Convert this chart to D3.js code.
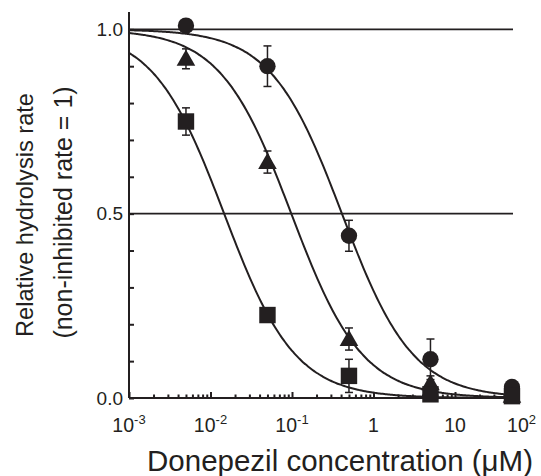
<!DOCTYPE html>
<html>
<head>
<meta charset="utf-8">
<script src="https://cdn.jsdelivr.net/npm/d3@7"></script>
<style>
  body { margin: 0; background: #fff; }
  svg { display: block; font-family: "Liberation Sans", Arial, sans-serif; }
</style>
</head>
<body>
<script>
// concentrations (uM) and mean +/- error for each inhibitor series
var conc = [0.005, 0.05, 0.5, 5, 50];
var circleMean = [1.01, 0.90, 0.44, 0.105, 0.03];
var circleErr  = [0.01, 0.055, 0.042, 0.055, 0.01];
var triMean    = [0.92, 0.64, 0.16, 0.04, 0.006];
var triErr     = [0.027, 0.03, 0.03, 0.02, 0.005];
var sqMean     = [0.75, 0.225, 0.06, 0.01, 0.005];
var sqErr      = [0.037, 0.012, 0.045, 0.006, 0.004];

// fitted IC50 (uM) and hill slope per series: circle, triangle, square
var ic50 = [0.41, 0.098, 0.0147];
var hill = [1, 1, 1];

var xTickLabels = [["10", "-3"], ["10", "-2"], ["10", "-1"], ["1", ""], ["10", ""], ["10", "2"]];
var yTickLabels = [0, 0.5, 1.0];

var w = 541, h = 476;
var ink = "#231f20";

var svg = d3.select("body").append("svg")
    .attr("width", w)
    .attr("height", h);

var x = d3.scaleLog().domain([1e-3, 100]).range([129, 536.5]);
var y = d3.scaleLinear().domain([0, 1.047]).range([398, 12]);
var xEnd = 520;

// reference lines at 1.0 and 0.5
svg.selectAll("line.ref")
    .data([1.0, 0.5])
    .enter().append("line")
    .attr("class", "ref")
    .attr("x1", x(1e-3)).attr("x2", 513)
    .attr("y1", function(d) { return y(d); })
    .attr("y2", function(d) { return y(d); })
    .style("stroke", ink)
    .style("stroke-width", 1.6);

// y axis
var yTicks = d3.range(0, 11).map(function(i) { return i / 10; });
var yAxis = svg.append("g")
    .attr("transform", "translate(" + x(1e-3) + ",0)")
    .call(d3.axisLeft(y).tickValues(yTicks).tickSize(-5).tickPadding(6)
        .tickFormat(function(d) {
            return yTickLabels.some(function(v) { return Math.abs(v - d) < 1e-9; }) ? d3.format(".1f")(d) : "";
        }));
yAxis.select(".domain").attr("d", "M0," + y(0) + "V" + y(1.047));
yAxis.selectAll("line, path").style("stroke", ink).style("stroke-width", 2);
yAxis.selectAll("text").style("font-size", "19px").style("fill", ink);

// x axis: minor and major ticks pointing inward
var minor = [];
for (var e = -3; e <= 1; e++) {
    for (var m = 2; m <= 9; m++) {
        var v = m * Math.pow(10, e);
        if (x(v) <= 515) minor.push(v);
    }
}
var majors = [1e-3, 1e-2, 1e-1, 1, 10, 100];

var xAxis = svg.append("g")
    .attr("transform", "translate(0," + y(0) + ")")
    .call(d3.axisBottom(x).tickValues(minor).tickSize(-3.5).tickFormat(""));
xAxis.select(".domain").attr("d", "M" + x(1e-3) + ",0H" + xEnd);
xAxis.selectAll("line, path").style("stroke", ink).style("stroke-width", 2);

var xMajor = svg.append("g")
    .attr("transform", "translate(0," + y(0) + ")")
    .call(d3.axisBottom(x).tickValues(majors.filter(function(d) { return x(d) <= xEnd; }))
        .tickSize(-6).tickFormat(""));
xMajor.select(".domain").remove();
xMajor.selectAll("line").style("stroke", ink).style("stroke-width", 2);

// x tick labels with superscripts
var xl = svg.selectAll("text.xl")
    .data(majors)
    .enter().append("text")
    .attr("class", "xl")
    .attr("x", function(d, i) { return i === majors.length - 1 ? x(d) - 15 : x(d); })
    .attr("y", 432)
    .attr("text-anchor", "middle")
    .style("font-size", "19.5px")
    .style("fill", ink);
xl.append("tspan").text(function(d, i) { return xTickLabels[i][0]; });
xl.append("tspan")
    .attr("dy", -8)
    .style("font-size", "13px")
    .text(function(d, i) { return xTickLabels[i][1]; });

// fitted curves
var curveX = d3.range(0, 201).map(function(i) {
    return Math.pow(10, -3 + i * (Math.log10(52) + 3) / 200);
});
var line = d3.line()
    .x(function(d) { return x(d[0]); })
    .y(function(d) { return y(d[1]); })
    .curve(d3.curveBasis);

ic50.forEach(function(c, k) {
    svg.append("path")
        .datum(curveX.map(function(v) { return [v, 1 / (1 + Math.pow(v / c, hill[k]))]; }))
        .attr("d", line)
        .style("fill", "none")
        .style("stroke", ink)
        .style("stroke-width", 2);
});

// series points
var series = [
    { mean: circleMean, err: circleErr, shape: d3.symbolCircle, size: 210 },
    { mean: triMean, err: triErr, shape: d3.symbolTriangle, size: 150 },
    { mean: sqMean, err: sqErr, shape: d3.symbolSquare, size: 270 }
];

series.forEach(function(s) {
    var pts = conc.map(function(c, i) { return { c: c, m: s.mean[i], e: s.err[i] }; });
    var eb = svg.append("g").selectAll("g").data(pts).enter().append("g")
        .style("stroke", ink).style("stroke-width", 1.5);
    eb.append("line")
        .attr("x1", function(d) { return x(d.c); })
        .attr("x2", function(d) { return x(d.c); })
        .attr("y1", function(d) { return y(d.m - d.e); })
        .attr("y2", function(d) { return y(d.m + d.e); });
    [-1, 1].forEach(function(sg) {
        eb.append("line")
            .attr("x1", function(d) { return x(d.c) - 4; })
            .attr("x2", function(d) { return x(d.c) + 4; })
            .attr("y1", function(d) { return y(d.m + sg * d.e); })
            .attr("y2", function(d) { return y(d.m + sg * d.e); });
    });
});

series.forEach(function(s) {
    svg.append("g").selectAll("path").data(conc).enter().append("path")
        .attr("d", d3.symbol().type(s.shape).size(s.size))
        .attr("transform", function(d, i) {
            var dy = s.shape === d3.symbolTriangle ? 1.5 : 0;
            return "translate(" + x(d) + "," + (y(s.mean[i]) + dy) + ")";
        })
        .style("fill", ink);
});

// axis titles
svg.append("text")
    .attr("transform", "translate(33,215) rotate(-90)")
    .attr("text-anchor", "middle")
    .style("font-size", "23.6px")
    .style("fill", ink)
    .text("Relative hydrolysis rate");
svg.append("text")
    .attr("transform", "translate(72,212.5) rotate(-90)")
    .attr("text-anchor", "middle")
    .style("font-size", "25px")
    .style("fill", ink)
    .text("(non-inhibited rate = 1)");

svg.append("text")
    .attr("x", 340)
    .attr("y", 471)
    .attr("text-anchor", "middle")
    .style("font-size", "29.5px")
    .style("fill", ink)
    .text("Donepezil concentration (\u03bcM)");
</script>
</body>
</html>
